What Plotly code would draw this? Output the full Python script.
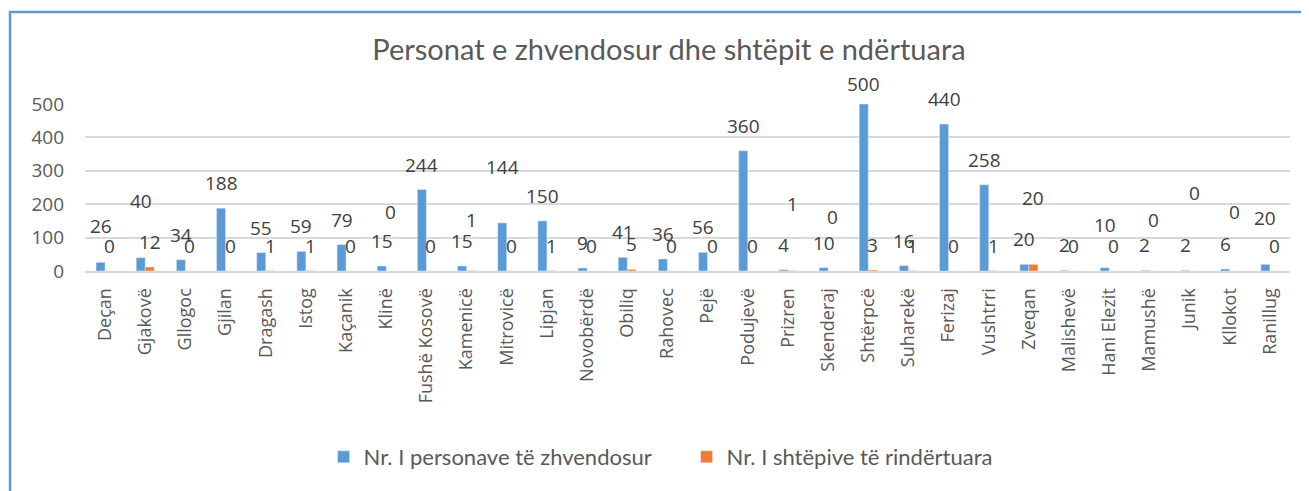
import plotly.graph_objects as go

categories = ["Deçan", "Gjakovë", "Gllogoc", "Gjilan", "Dragash", "Istog", "Kaçanik", "Klinë",
              "Fushë Kosovë", "Kamenicë", "Mitrovicë", "Lipjan", "Novobërdë", "Obiliq", "Rahovec",
              "Pejë", "Podujevë", "Prizren", "Skenderaj", "Shtërpcë", "Suharekë", "Ferizaj",
              "Vushtrri", "Zveqan", "Malishevë", "Hani Elezit", "Mamushë", "Junik", "Kllokot", "Ranillug"]
persons = [26, 40, 34, 188, 55, 59, 79, 15, 244, 15, 144, 150, 9, 41, 36, 56, 360, 4, 10, 500,
           16, 440, 258, 20, 2, 10, 2, 2, 6, 20]
houses = [0, 12, 0, 0, 1, 1, 0, 0, 0, 1, 0, 1, 0, 5, 0, 0, 0, 1, 0, 3, 1, 0, 1, 20, 0, 0, 0, 0, 0, 0]
series_names = ["Nr. I personave të zhvendosur", "Nr. I shtëpive të rindërtuara"]
title_text = "Personat e zhvendosur dhe shtëpit e ndërtuara"
y_ticks = [0, 100, 200, 300, 400, 500]

# style: colours and label placement (pixel nudges, as in the original layout)
BLUE = "#5b9bd5"
ORANGE = "#ed7d31"
TEXT = "#595959"
LABEL = "#404040"
BASE_SHIFT = 25
NUDGE_BLUE = {"Deçan": 11, "Gjakovë": 32, "Mitrovicë": 31, "Hani Elezit": 18, "Ranillug": 21,
              "Shtërpcë": -5}
NUDGE_ORANGE = {"Klinë": 34, "Kamenicë": 26, "Prizren": 42, "Skenderaj": 29, "Zveqan": 41,
                "Mamushë": 26, "Junik": 53, "Kllokot": 34}

title_font = "Lato, Open Sans, sans-serif"
body_font = "Open Sans, sans-serif"

# the page body adds an 8px offset; the figure is sized to fill the rest of the window
W, H = 1301, 483
PL, PR, PT, PB = 77, 1282, 96, 263   # plot area edges inside the figure
PW, PH = PR - PL, PB - PT

fig = go.Figure()
fig.add_trace(go.Bar(x=categories, y=persons, name=series_names[0], marker_color=BLUE))
fig.add_trace(go.Bar(x=categories, y=houses, name=series_names[1], marker_color=ORANGE))

annotations = []
for c, v in zip(categories, persons):
    annotations.append(dict(x=c, y=v, text=str(v), showarrow=False, xshift=-4.5,
                            yshift=BASE_SHIFT + NUDGE_BLUE.get(c, 0), yanchor="middle",
                            font=dict(family=body_font, size=19, color=LABEL)))
for c, v in zip(categories, houses):
    annotations.append(dict(x=c, y=v, text=str(v), showarrow=False, xshift=4.5,
                            yshift=BASE_SHIFT + NUDGE_ORANGE.get(c, 0), yanchor="middle",
                            font=dict(family=body_font, size=19, color=LABEL)))

fig.update_layout(
    width=W, height=H,
    margin=dict(l=PL, r=W - PR, t=PT, b=H - PB, autoexpand=False),
    paper_bgcolor="white", plot_bgcolor="white",
    barmode="group", bargap=0.55, bargroupgap=0,
    title=dict(text=title_text, x=661 / W, xanchor="center", xref="container",
               y=1 - 42 / H, yanchor="middle", yref="container",
               font=dict(family=title_font, size=29, color=TEXT)),
    legend=dict(orientation="h", x=0.198, xanchor="left", y=(PB - 449) / PH, yanchor="middle",
                font=dict(family=title_font, size=22, color=TEXT), itemwidth=30,
                entrywidth=318, traceorder="normal"),
    annotations=annotations,
    shapes=[dict(type="rect", xref="paper", yref="paper",
                 x0=(2 - PL) / PW, x1=(1330 - PL) / PW,
                 y0=(PB - 520) / PH, y1=(PB - 4) / PH,
                 line=dict(color=BLUE, width=2.5), fillcolor="rgba(0,0,0,0)", layer="below")],
)
fig.update_xaxes(tickangle=-90, tickfont=dict(family=body_font, size=18, color=TEXT),
                 showgrid=False, showline=True, linecolor="#d9d9d9", linewidth=2,
                 ticks="", ticklabelstandoff=8, automargin=False)
fig.update_yaxes(range=[0, 500], tickvals=y_ticks, showgrid=True, gridcolor="#d9d9d9", gridwidth=1.5,
                 zeroline=False, showline=False, ticks="", automargin=False,
                 tickfont=dict(family=body_font, size=19, color=TEXT), ticklabelstandoff=20)

fig.write_html("out.html")
